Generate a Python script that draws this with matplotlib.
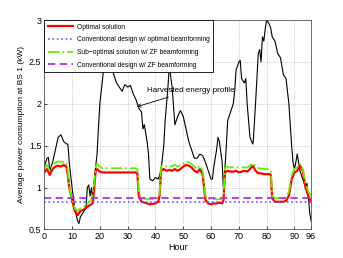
import numpy as np
import matplotlib.pyplot as plt

# hours and values
harvest_h = [0, 1, 1.5, 2, 3, 4, 5, 6, 7, 8, 8.5, 9, 10, 11, 12, 12.5, 13, 14, 15, 15.5, 16, 16.5, 17, 17.5,
             18, 19, 19.5, 20, 21, 22, 23, 24, 25, 26, 27, 28, 29, 30, 31, 32, 33, 34, 35, 35.5, 36, 37,
             37.5, 38, 39, 40, 41, 42, 43, 43.5, 44.5, 45, 46, 47, 48, 49, 50, 51, 52, 53, 54, 55, 56, 57,
             58, 59, 60, 60.5, 61, 62, 62.5, 63, 64, 64.5, 65.5, 66, 67, 68, 68.5, 69, 70, 70.5, 71, 72,
             72.5, 73, 74, 75, 75.2, 76, 77, 77.5, 78, 78.5, 79, 79.5, 80, 81, 81.5, 82, 83, 84, 85, 86,
             87, 88, 88.5, 89, 89.5, 90, 90.5, 91, 92, 93, 94, 94.5, 95, 95.5, 96]
harvest = [1.25, 1.35, 1.36, 1.2, 1.3, 1.45, 1.6, 1.63, 1.55, 1.52, 1.52, 1.3, 1.0, 0.75, 0.6, 0.57, 0.65,
           0.7, 0.75, 1.0, 1.03, 0.9, 1.0, 0.85, 1.1, 1.4, 1.72, 2.0, 2.3, 2.6, 2.7, 2.48, 2.35, 2.25,
           2.2, 2.15, 2.23, 2.2, 2.22, 2.12, 2.05, 1.95, 1.9, 1.7, 1.75, 1.55, 1.4, 1.1, 1.08, 1.12, 1.1,
           1.2, 1.5, 1.8, 2.2, 2.45, 2.2, 1.75, 1.85, 1.92, 1.85, 1.7, 1.55, 1.45, 1.35, 1.35, 1.4, 1.38,
           1.3, 1.2, 1.1, 1.1, 1.25, 1.45, 1.6, 1.55, 1.3, 0.95, 1.5, 1.8, 1.9, 2.0, 2.15, 2.4, 2.5, 2.52,
           2.3, 2.25, 2.3, 2.0, 1.6, 1.52, 1.55, 2.0, 2.6, 2.65, 2.5, 2.8, 2.75, 2.9, 3.0, 2.95, 2.9, 2.8,
           2.75, 2.6, 2.55, 2.35, 2.3, 2.0, 1.75, 1.5, 1.3, 1.22, 1.3, 1.4, 1.2, 1.1, 1.0, 1.05, 0.9, 0.7,
           0.6]

opt_h = [0, 1, 2, 3, 4, 5, 6, 7, 8, 8.5, 9, 10, 11, 12, 13, 14, 15, 16, 17, 17.5, 18, 18.5, 19, 20, 21,
         25, 30, 33, 33.5, 34, 35, 36, 37, 38, 40, 41, 41.5, 42, 43, 44, 45, 46, 47, 48, 49, 50, 51, 52,
         53, 54, 55, 56, 57, 58, 59, 60, 61, 62, 63, 64, 64.5, 65, 66, 67, 68, 69, 70, 71, 72, 73, 74,
         75, 76, 77, 78, 79, 80, 81, 81.5, 82, 83, 84, 86, 87, 88, 89, 90, 91, 92, 93, 94, 95, 96]
optimal = [1.18, 1.22, 1.15, 1.22, 1.25, 1.26, 1.25, 1.27, 1.25, 1.15, 1.0, 0.85, 0.72, 0.67, 0.72,
           0.73, 0.76, 0.78, 0.8, 0.82, 1.0, 1.2, 1.22, 1.19, 1.18, 1.18, 1.18, 1.18, 1.17, 0.9, 0.83,
           0.82, 0.81, 0.8, 0.81, 0.83, 0.9, 1.2, 1.22, 1.2, 1.21, 1.2, 1.22, 1.2, 1.22, 1.25, 1.27, 1.26,
           1.24, 1.2, 1.18, 1.22, 1.15, 0.85, 0.81, 0.8, 0.81, 0.81, 0.82, 0.81, 0.85, 1.18, 1.2, 1.19,
           1.19, 1.2, 1.18, 1.19, 1.2, 1.19, 1.22, 1.26, 1.2, 1.17, 1.17, 1.16, 1.16, 1.16, 1.15, 0.87,
           0.83, 0.83, 0.83, 0.84, 0.9, 1.1, 1.18, 1.2, 1.26, 1.2, 1.0, 0.9, 0.83]

sub_h = [0, 1, 2, 3, 4, 5, 6, 7, 8, 8.5, 9, 10, 11, 12, 13, 14, 15, 16, 17, 18, 18.5, 19, 20, 21, 25,
         30, 33, 33.5, 34, 35, 38, 41, 41.5, 42, 43, 44, 45, 46, 47, 48, 49, 50, 51, 52, 53, 54, 55, 56,
         57, 58, 59, 62, 64, 64.5, 65, 66, 67, 70, 73, 74, 75, 76, 77, 80, 81, 81.5, 82, 83, 85, 87, 88,
         89, 90, 91, 92, 93, 94, 95, 96]
suboptimal = [1.22, 1.27, 1.2, 1.25, 1.3, 1.31, 1.31, 1.3, 1.3, 1.2, 1.0, 0.85, 0.75, 0.72, 0.75, 0.76,
              0.8, 0.82, 0.85, 1.05, 1.25, 1.28, 1.25, 1.23, 1.23, 1.23, 1.23, 1.22, 0.95, 0.87, 0.86,
              0.87, 0.92, 1.25, 1.26, 1.25, 1.25, 1.26, 1.27, 1.25, 1.27, 1.29, 1.31, 1.3, 1.28, 1.25,
              1.22, 1.26, 1.2, 0.9, 0.86, 0.86, 0.86, 0.9, 1.23, 1.25, 1.24, 1.24, 1.24, 1.26, 1.29, 1.25,
              1.23, 1.22, 1.21, 1.2, 0.9, 0.87, 0.87, 0.88, 0.95, 1.15, 1.22, 1.24, 1.28, 1.22, 1.05,
              0.95, 0.9]

conv_opt = 0.83
conv_zf = 0.878

plt.rcParams['font.family'] = 'Liberation Sans'
fig = plt.figure(figsize=(3.43, 2.58), dpi=100)
ax = fig.add_axes([0.129, 0.111, 0.778, 0.811])

ax.plot(harvest_h, harvest, color='black', lw=0.8)
ax.plot(opt_h, optimal, color='red', lw=1.6, label='Optimal solution')
ax.plot([0, 96], [conv_opt, conv_opt], color='#5060ff', lw=1.2, ls=':',
        label='Conventional design w/ optimal beamforming')
ax.plot(sub_h, suboptimal, color='#66ee00', lw=1.3, ls='-.',
        label='Sub\u2212optimal solution w/ ZF beamforming')
ax.plot([0, 96], [conv_zf, conv_zf], color='#b030f0', lw=1.3, ls='--', dashes=(4, 2.5),
        label='Conventional design w/ ZF beamforming')

ax.annotate('Harvested energy profile', xy=(33.3, 1.965), xytext=(36.8, 2.16),
            fontsize=5.8, va='center',
            arrowprops=dict(arrowstyle='->', color='black', lw=0.6, shrinkA=1, shrinkB=0))

ax.set_xlim(0, 96)
ax.set_ylim(0.5, 3)
ax.set_xticks([0, 10, 20, 30, 40, 50, 60, 70, 80, 90, 96])
ax.set_yticks([0.5, 1, 1.5, 2, 2.5, 3])
ax.set_yticklabels(['0.5', '1', '1.5', '2', '2.5', '3'])
ax.tick_params(labelsize=6.5, direction='in', length=2, width=0.5, pad=2)
ax.grid(True, ls=':', color='#aaaaaa', lw=0.5)
for s in ax.spines.values():
    s.set_linewidth(0.6)
    s.set_color('#555555')
ax.set_xlabel('Hour', fontsize=6.5, labelpad=1)
ax.set_ylabel('Average power consumption at BS 1 (kW)', fontsize=6, labelpad=3)

leg = ax.legend(loc='upper left', fontsize=4.8, handlelength=3.8, handletextpad=0.5,
                borderpad=0.55, labelspacing=0.85, borderaxespad=0, fancybox=False, framealpha=1)
leg.get_frame().set_edgecolor('black')
leg.get_frame().set_linewidth(0.6)

fig.savefig('out.png', dpi=100)
